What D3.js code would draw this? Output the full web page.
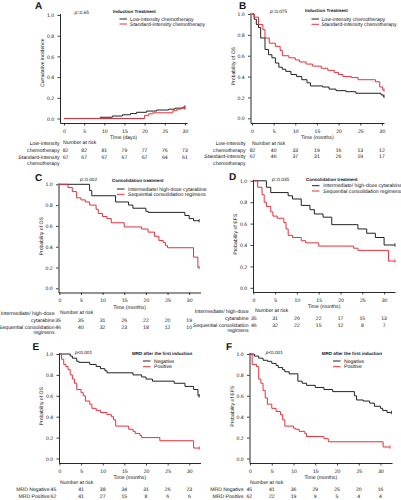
<!DOCTYPE html>
<html><head><meta charset="utf-8">
<script src="https://cdn.jsdelivr.net/npm/d3@7"></script>
<style>
body{margin:0;background:#fff}
svg text{font-family:"Liberation Sans",Arial,Helvetica,sans-serif;fill:#111;text-rendering:geometricPrecision}
</style>
</head><body>
<svg id="chart" width="401" height="500"></svg>
<script>
// ---------------- DATA ----------------
const timeTicks = [0, 5, 10, 15, 20, 25, 30];
const yTicks = [0, 0.2, 0.4, 0.6, 0.8, 1.0];

// Panel A – cumulative incidence, induction treatment
const aLow = [[0,0],[9,0.012],[12,0.024],[14.5,0.036],[16.5,0.048],[18,0.06],[20.5,0.072],[23,0.082],[26,0.09],[27.5,0.1],[29.5,0.11],[30,0.11]];
const aStd = [[0,0],[20,0.03],[21,0.045],[22,0.055],[27,0.075],[28,0.09],[29,0.1],[30,0.1]];
const aRiskLow = [82, 82, 81, 79, 77, 76, 73];
const aRiskStd = [67, 67, 67, 67, 67, 64, 61];

// Panel B – OS, induction treatment
const bLow = [[0,1],[0.5,0.95],[1,0.9],[1.5,0.87],[2,0.77],[3,0.66],[3.8,0.61],[4.6,0.58],[5.4,0.53],[6.2,0.49],[7,0.47],[7.8,0.45],[9,0.42],[10.3,0.4],[11.5,0.37],[12.7,0.34],[13.5,0.31],[16.3,0.3],[17.8,0.28],[19.4,0.265],[21.7,0.255],[24,0.24],[29.8,0.225],[30.3,0.21],[30.5,0.21]];
const bStd = [[0,1],[0.5,0.97],[1.5,0.9],[2.5,0.85],[3,0.77],[4,0.72],[5.4,0.69],[6.5,0.65],[7,0.6],[8.5,0.58],[10,0.56],[11,0.54],[12.5,0.52],[14,0.5],[16,0.48],[17.5,0.46],[19,0.44],[20,0.42],[21,0.4],[23,0.39],[24.5,0.37],[28.5,0.35],[29.5,0.3],[30.2,0.27],[30.5,0.27]];
const bRiskLow = [82, 40, 33, 19, 16, 13, 12];
const bRiskStd = [67, 46, 37, 31, 26, 19, 17];

// Panel C – OS, consolidation treatment
const cInter = [[0,1],[7,0.94],[7.5,0.89],[13,0.83],[16,0.8],[17,0.77],[20,0.74],[20.5,0.73],[29,0.7],[30,0.67],[31,0.65],[32.3,0.65]];
const cSeq = [[0,1],[2,0.97],[3,0.93],[4,0.87],[5,0.85],[6,0.83],[7,0.8],[8.5,0.76],[9,0.72],[10,0.69],[11,0.67],[12,0.63],[15,0.59],[19,0.57],[20.5,0.54],[22,0.5],[23,0.46],[24,0.44],[24.5,0.41],[25,0.39],[31,0.3],[32,0.2],[32.3,0.2]];
const cRiskInter = [35, 35, 31, 26, 22, 20, 19];
const cRiskSeq = [46, 40, 32, 23, 18, 12, 10];

// Panel D – EFS, consolidation treatment
const dInter = [[0,1],[3,0.94],[4,0.89],[8,0.86],[9,0.83],[11,0.77],[13,0.73],[14,0.69],[16,0.66],[18,0.59],[24,0.55],[26,0.51],[28,0.47],[30,0.4],[32.5,0.4]];
const dSeq = [[0,1],[1,0.94],[2,0.87],[2.5,0.8],[3,0.76],[4,0.71],[4.5,0.67],[5.5,0.65],[7,0.61],[7.5,0.55],[8,0.49],[9,0.47],[11,0.44],[12,0.42],[15,0.39],[23,0.37],[24,0.35],[31,0.25],[32.5,0.25]];
const dRiskInter = [35, 31, 26, 22, 17, 15, 13];
const dRiskSeq = [46, 32, 22, 15, 12, 8, 7];

// Panel E – OS, MRD after first induction
const eNeg = [[0,1],[2.5,0.98],[3,0.96],[4,0.93],[4.5,0.92],[7,0.9],[8.5,0.88],[9.5,0.86],[10.5,0.84],[11,0.82],[17,0.8],[19,0.78],[20,0.76],[21.5,0.74],[26.5,0.72],[29,0.69],[31,0.66],[32,0.6],[32.3,0.6]];
const ePos = [[0,1],[0.5,0.95],[1,0.9],[1.5,0.88],[2,0.85],[2.5,0.8],[3,0.76],[3.5,0.72],[4,0.66],[5,0.63],[5.5,0.6],[6,0.55],[7,0.52],[7.5,0.48],[8.5,0.46],[9.5,0.44],[11,0.42],[12,0.4],[12.5,0.37],[13,0.31],[16,0.28],[17,0.26],[17.5,0.24],[18.6,0.22],[19,0.2],[23.2,0.17],[31,0.1],[32.3,0.1]];
const eRiskNeg = [45, 41, 38, 34, 31, 26, 23];
const eRiskPos = [62, 41, 27, 15, 8, 6, 6];

// Panel F – EFS, MRD after first induction
const fNeg = [[0,1],[1,0.98],[2,0.96],[3,0.94],[4,0.93],[5,0.91],[6,0.89],[6.5,0.87],[7.5,0.85],[8,0.83],[9,0.81],[11,0.74],[12,0.72],[13,0.7],[15,0.68],[17,0.66],[19,0.64],[24,0.6],[24.5,0.56],[26,0.55],[27.5,0.53],[28.6,0.5],[30,0.48],[30.5,0.46],[31.5,0.44],[32.5,0.44]];
const fPos = [[0,1],[0.5,0.9],[1.5,0.88],[2,0.76],[2.5,0.72],[3,0.65],[3.5,0.58],[4,0.52],[5,0.48],[6,0.45],[7,0.42],[7.5,0.37],[8,0.31],[10,0.29],[10.5,0.28],[11.3,0.26],[12.6,0.24],[13,0.21],[17,0.19],[18,0.16],[30.6,0.11],[32.2,0.11]];
const fRiskNeg = [45, 41, 36, 29, 25, 20, 16];
const fRiskPos = [62, 22, 19, 9, 5, 4, 4];

// ---------------- DRAWING ----------------
const BLACK = "#222", RED = "#e8303a";
const svg = d3.select("#chart");

// calibrate the font size so that text widths match the reference
const probe = svg.append("text").attr("font-size", 5).text("Standard-intensity chemotherapy");
const w5 = probe.node().getComputedTextLength() || 73;
probe.remove();
const FS = Math.max(4.6, Math.min(6, 5 * 75 / w5));
const FT = FS * 0.88;

const panels = [
  {letter:"A", lx:35, ly:8.5, x0:64, ppu:4.03, yAxisX:60, xEnd:187, yTop:15, yZero:118.5, axisY:123,
   xTitle:"Time (days)", yTitle:"Cumulative incidence", yTitleShift:-4,
   p:["p","=0.65"], px:74.5, py:12.7,
   legTitle:"Induction Treatment", legTX:113, legTY:11, legLX:119.5, legTextX:130, legY:[19,24],
   names:["Low-intensity chemotherapy","Standard-intensity chemotherapy"],
   series:[aLow, aStd], risk:[aRiskLow, aRiskStd], firstShift:1.5,
   nar:[63,142.7], labRight:59.5,
   labels:[["Low-intensity",143],["chemotherapy",150.3],["Standard-intensity",157.2],["chemotherapy",163.5]],
   rowY:[150.3,157.2]},
  {letter:"B", lx:239, ly:8.5, x0:252, ppu:4.33, yAxisX:250.5, xEnd:384, yTop:14, yZero:118.3, axisY:123,
   xTitle:"Time (months)", yTitle:"Probability of OS", yTitleShift:0,
   p:["p","=0.075"], px:270, py:11.7,
   legTitle:"Induction Treatment", legTX:305, legTY:10.7, legLX:311.5, legTextX:321.5, legY:[19,24.3],
   names:["Low-intensity chemotherapy","Standard-intensity chemotherapy"],
   series:[bLow, bStd], risk:[bRiskLow, bRiskStd], firstShift:0.5,
   nar:[252,143.3], labRight:245.5,
   labels:[["Low-intensity",143.3],["chemotherapy",150],["Standard-intensity",156.7],["chemotherapy",163.3]],
   rowY:[150,156.7]},
  {letter:"C", lx:35, ly:181, x0:59.3, ppu:4.33, yAxisX:58.5, xEnd:200.5, yTop:184.3, yZero:288.3, axisY:292.5,
   xTitle:"Time (months)", yTitle:"Probability of OS", yTitleShift:0,
   p:["p","=0.002"], px:80, py:179.3,
   legTitle:"Consolidation treatment", legTX:112, legTY:180, legLX:117, legTextX:128, legY:[189,194.3],
   names:["Intermediate/ high-dose cytarabine","Sequential consolidation regimens"],
   series:[cInter, cSeq], risk:[cRiskInter, cRiskSeq], firstShift:-1.3,
   nar:[60,312.5], labRight:54.5,
   labels:[["Intermediate/ high-dose",313.7],["cytarabine",320.7],["Sequential consolidation",327],["regimens",332.5]],
   rowY:[320.7,327]},
  {letter:"D", lx:229, ly:180, x0:253.3, ppu:4.36, yAxisX:253, xEnd:395, yTop:180.8, yZero:287.8, axisY:292,
   xTitle:"Time (months)", yTitle:"Probability of EFS", yTitleShift:0,
   p:["p","=0.035"], px:272, py:179,
   legTitle:"Consolidation treatment", legTX:306, legTY:179, legLX:312, legTextX:323.3, legY:[185.7,191],
   names:["Intermediate/ high-dose cytarabine","Sequential consolidation regimens"],
   series:[dInter, dSeq], risk:[dRiskInter, dRiskSeq], firstShift:0.5,
   nar:[255,310.7], labRight:248.5,
   labels:[["Intermediate/ high-dose",311.5],["cytarabine",318.3],["Sequential consolidation",325],["regimens",330.7]],
   rowY:[318.3,325]},
  {letter:"E", lx:32.5, ly:350, x0:59.4, ppu:4.33, yAxisX:59, xEnd:200.5, yTop:354, yZero:458.5, axisY:463,
   xTitle:"Time (months)", yTitle:"Probability of OS", yTitleShift:0,
   p:["p","<0.001"], px:75, py:352.3,
   legTitle:"MRD after the first induction", legTX:132, legTY:353.3, legLX:143, legTextX:154, legY:[361,366.7],
   names:["Negative","Positive"],
   series:[eNeg, ePos], risk:[eRiskNeg, eRiskPos], firstShift:-6,
   nar:[60,482], labRight:49.5,
   labels:[["MRD Negative",489.3],["MRD Positive",496]],
   rowY:[489.3,496]},
  {letter:"F", lx:226, ly:350, x0:250, ppu:4.35, yAxisX:249.5, xEnd:392, yTop:354, yZero:458.5, axisY:463,
   xTitle:"Time (months)", yTitle:"Probability of EFS", yTitleShift:0,
   p:["p","<0.001"], px:265.7, py:352.3,
   legTitle:"MRD after the first induction", legTX:321.7, legTY:353.3, legLX:333, legTextX:344, legY:[361,366.7],
   names:["Negative","Positive"],
   series:[fNeg, fPos], risk:[fRiskNeg, fRiskPos], firstShift:-0.7,
   nar:[250,482], labRight:243.5,
   labels:[["MRD Negative",489.3],["MRD Positive",496]],
   rowY:[489.3,496]}
];

const colors = [BLACK, RED];

panels.forEach(P => {
  const g = svg.append("g");
  const xMin = (P.yAxisX - P.x0) / P.ppu;
  const xMax = (P.xEnd - P.x0) / P.ppu;
  const x = d3.scaleLinear().domain([xMin, xMax]).range([P.yAxisX, P.xEnd]);
  const y0 = d3.scaleLinear().domain([0, 1]).range([P.yZero, P.yTop]);
  const yMin = y0.invert(P.axisY);
  const y = d3.scaleLinear().domain([yMin, 1.015]).range([P.axisY, y0(1.015)]);

  // panel letter
  g.append("text").attr("x", P.lx).attr("y", P.ly).attr("font-size", 10).attr("font-weight", "bold").text(P.letter);

  // axes
  const xAxis = d3.axisBottom(x).tickValues(timeTicks).tickSize(2.5).tickSizeOuter(0).tickPadding(3.4).tickFormat(d3.format("d"));
  const gx = g.append("g").attr("transform", `translate(0,${P.axisY})`).call(xAxis);
  const yAxis = d3.axisLeft(y).tickValues(yTicks).tickSize(2.5).tickSizeOuter(0).tickPadding(3.3).tickFormat(d3.format(".1f"));
  const gy = g.append("g").attr("transform", `translate(${P.yAxisX},0)`).call(yAxis);
  [gx, gy].forEach(a => {
    a.attr("font-size", null).attr("font-family", null);
    a.selectAll("path.domain").attr("stroke", "#111").attr("stroke-width", 0.9);
    a.selectAll(".tick line").attr("stroke", "#111").attr("stroke-width", 0.8);
    a.selectAll(".tick text").attr("font-size", FS).attr("fill", "#111");
  });

  // axis titles
  g.append("text").attr("x", (P.yAxisX + P.xEnd) / 2).attr("y", P.axisY + 14.5).attr("dy", "0.35em")
    .attr("text-anchor", "middle").attr("font-size", FS).text(P.xTitle);
  const yc = (P.yTop + P.yZero) / 2 + P.yTitleShift;
  g.append("text").attr("transform", `translate(${P.yAxisX - 17.5},${yc}) rotate(-90)`)
    .attr("text-anchor", "middle").attr("dy", "0.35em").attr("font-size", FS).text(P.yTitle);

  // curves
  const line = d3.line().x(d => x(d[0])).y(d => y(d[1])).curve(d3.curveStepAfter);
  P.series.forEach((s, i) => {
    g.append("path").datum(s).attr("d", line).attr("fill", "none")
      .attr("stroke", colors[i]).attr("stroke-width", 1);
    const last = s[s.length - 1];
    g.append("line").attr("x1", x(last[0])).attr("x2", x(last[0]))
      .attr("y1", y(last[1]) - 1.8).attr("y2", y(last[1]) + 1.8)
      .attr("stroke", colors[i]).attr("stroke-width", 0.8);
  });

  // p value
  const pt = g.append("text").attr("x", P.px).attr("y", P.py).attr("dy", "0.35em").attr("font-size", FS * 0.92);
  pt.append("tspan").attr("font-style", "italic").text(P.p[0]);
  pt.append("tspan").text(P.p[1]);

  // legend
  g.append("text").attr("x", P.legTX).attr("y", P.legTY).attr("dy", "0.35em")
    .attr("font-size", FT).attr("font-weight", "bold").text(P.legTitle);
  P.names.forEach((n, i) => {
    g.append("line").attr("x1", P.legLX).attr("x2", P.legLX + 7.5)
      .attr("y1", P.legY[i]).attr("y2", P.legY[i]).attr("stroke", colors[i]).attr("stroke-width", 1);
    g.append("text").attr("x", P.legTextX).attr("y", P.legY[i]).attr("dy", "0.35em")
      .attr("font-size", FS).text(n);
  });

  // number at risk table
  g.append("text").attr("x", P.nar[0]).attr("y", P.nar[1]).attr("dy", "0.35em").attr("font-size", FS).text("Number at risk");
  P.labels.forEach(([t, yy]) => {
    g.append("text").attr("x", P.labRight).attr("y", yy).attr("dy", "0.35em")
      .attr("text-anchor", "end").attr("font-size", FS).text(t);
  });
  P.risk.forEach((row, ri) => {
    g.selectAll(null).data(row).enter().append("text")
      .attr("x", (d, k) => x(timeTicks[k]) + (k === 0 ? P.firstShift : 0))
      .attr("y", P.rowY[ri]).attr("dy", "0.35em")
      .attr("text-anchor", "middle").attr("font-size", FS).text(d => d);
  });
});
</script>
</body></html>
